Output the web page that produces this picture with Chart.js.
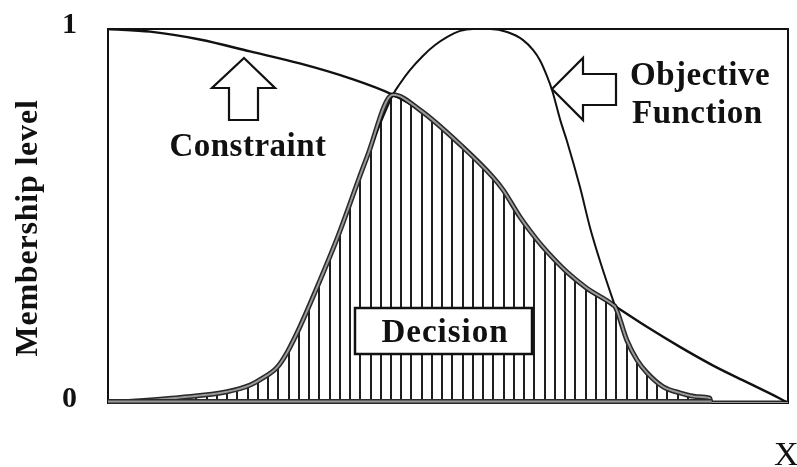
<!DOCTYPE html>
<html><head><meta charset="utf-8">
<script src="https://cdn.jsdelivr.net/npm/chart.js@4/dist/chart.umd.min.js"></script>
<style>html,body{margin:0;padding:0;background:#fff;}#wrap{width:797px;height:467px;}</style>
</head><body><div id="wrap"><canvas id="c" width="797" height="467"></canvas></div>
<script>
// ---- data (x in arbitrary units 0..100, y = membership level) ----
const objectiveX = [0, 10.6, 17.5, 20.9, 22.8, 24.9, 26.3, 28.2, 31.2, 33.7, 38.1, 41.9, 42.9, 44.4, 46.3, 48.1, 49.9, 51.8, 53.7, 56.2, 58.7, 61.0, 62.5, 63.5, 64.6, 65.3, 66.5, 67.5, 69.4, 70.9, 72.4, 74.6, 76.3, 77.8, 79.3, 81.6, 84.1, 86.6, 88.5, 88.7, 100];
const objectiveY = [0, 0.015, 0.03, 0.048, 0.067, 0.096, 0.134, 0.203, 0.329, 0.44, 0.658, 0.824, 0.853, 0.89, 0.928, 0.957, 0.979, 0.995, 1.0, 1.0, 0.992, 0.971, 0.944, 0.917, 0.872, 0.837, 0.757, 0.70, 0.578, 0.468, 0.377, 0.257, 0.168, 0.115, 0.08, 0.044, 0.027, 0.017, 0.013, 0, 0];
const constraintX = [0, 6.2, 13.5, 20.9, 28.2, 35.6, 41.9, 45.9, 52.2, 56.6, 58.1, 60.6, 63.1, 64.6, 67.5, 70.4, 74.3, 79.3, 84.1, 89.0, 94.0, 98.8, 100];
const constraintY = [1.0, 0.993, 0.972, 0.94, 0.908, 0.868, 0.824, 0.783, 0.684, 0.604, 0.57, 0.497, 0.436, 0.404, 0.35, 0.307, 0.262, 0.203, 0.15, 0.1, 0.055, 0.012, 0];
const crossings = [41.9, 74.6];       // where the two curves intersect
const yTickValues = [0, 1];
const labels = {
  yTitle: 'Membership level', xTitle: 'X',
  constraint: 'Constraint', objective: ['Objective', 'Function'], decision: 'Decision'
};

const toPts = (xs, ys) => xs.map((x, i) => ({x, y: ys[i]}));
const objective = toPts(objectiveX, objectiveY);
const constraint = toPts(constraintX, constraintY);
const decision = [
  ...objective.filter(p => p.x <= crossings[0]),
  ...constraint.filter(p => p.x > crossings[0] && p.x < crossings[1]),
  ...objective.filter(p => p.x >= crossings[1])
];
const decisionEnd = objectiveX.find((x, i) => i > 0 && objectiveY[i] === 0);

// vertical hatch pattern
const pc = document.createElement('canvas');
pc.width = 512; pc.height = 4;
const pctx = pc.getContext('2d');
pctx.fillStyle = '#1e1e1e';
for (let k = 0; k < 50; k++) pctx.fillRect(Math.round(0.88 + k * 10.24), 0, 2, 4);
const hatch = pctx.createPattern(pc, 'repeat');

const SERIF = '"Liberation Serif", "Times New Roman", serif';

const decor = {
  id: 'decor',
  beforeDraw(chart) {
    const c = chart.ctx; c.save(); c.fillStyle = '#fff'; c.fillRect(0, 0, chart.width, chart.height); c.restore();
  },
  beforeDatasetsDraw(chart) {
    const c = chart.ctx, a = chart.chartArea;
    c.save(); c.strokeStyle = '#111'; c.lineWidth = 2;
    c.strokeRect(a.left, a.top, a.right - a.left, a.bottom - a.top);
    c.restore();
  },
  afterDatasetsDraw(chart) {
    const c = chart.ctx, a = chart.chartArea, xs = chart.scales.x;
    c.save();
    // base band of the decision area
    const x0 = xs.getPixelForValue(0), x1 = xs.getPixelForValue(decisionEnd);
    c.lineCap = 'butt';
    c.strokeStyle = '#2a2a2a'; c.lineWidth = 5;
    c.beginPath(); c.moveTo(x0, a.bottom - 1.5); c.lineTo(x1, a.bottom - 1.5); c.stroke();
    c.strokeStyle = '#9a9a9a'; c.lineWidth = 2;
    c.beginPath(); c.moveTo(x0, a.bottom - 1.5); c.lineTo(x1, a.bottom - 1.5); c.stroke();

    // block arrows
    const poly = pts => {
      c.beginPath(); c.moveTo(pts[0][0], pts[0][1]);
      for (let i = 1; i < pts.length; i++) c.lineTo(pts[i][0], pts[i][1]);
      c.closePath(); c.fillStyle = '#fff'; c.fill();
      c.strokeStyle = '#111'; c.lineWidth = 2.2; c.lineJoin = 'miter'; c.stroke();
    };
    poly([[244, 58], [275, 88], [258, 88], [258, 120], [229, 120], [229, 88], [212, 88]]);
    poly([[552, 89], [583, 58], [583, 74], [616, 74], [616, 105], [583, 105], [583, 120]]);

    // decision box
    c.fillStyle = '#fff'; c.fillRect(355, 308, 177, 46);
    c.strokeStyle = '#111'; c.lineWidth = 2.5; c.strokeRect(355, 308, 177, 46);

    c.fillStyle = '#111';
    c.font = 'bold 33px ' + SERIF;
    c.letterSpacing = '0.5px';
    c.textBaseline = 'alphabetic';
    c.textAlign = 'center';
    c.fillText(labels.constraint, 248, 156);
    c.letterSpacing = '1px';
    c.fillText(labels.decision, 445, 342);
    c.textAlign = 'left';
    c.letterSpacing = '0.5px';
    c.fillText(labels.objective[0], 630, 85);
    c.fillText(labels.objective[1], 632, 123);

    // axis titles
    c.save();
    c.translate(29, 228); c.rotate(-Math.PI / 2);
    c.textAlign = 'center'; c.textBaseline = 'middle';
    c.font = 'bold 32px ' + SERIF;
    c.letterSpacing = '0.8px';
    c.fillText(labels.yTitle, 0, 0);
    c.restore();
    c.letterSpacing = '0px';
    c.font = '34px ' + SERIF;
    c.textAlign = 'left'; c.textBaseline = 'alphabetic';
    c.fillText(labels.xTitle, 774, 465);
    c.restore();
  }
};

new Chart(document.getElementById('c'), {
  type: 'line',
  data: {
    datasets: [
      { label: 'Decision', data: decision, fill: 'origin', backgroundColor: hatch,
        borderColor: '#2a2a2a', borderWidth: 5, pointRadius: 0, cubicInterpolationMode: 'monotone', order: 3 },
      { label: 'Objective Function', data: objective, fill: false, borderColor: '#111', borderWidth: 2,
        pointRadius: 0, cubicInterpolationMode: 'monotone', order: 2 },
      { label: 'Constraint', data: constraint, fill: false, borderColor: '#111', borderWidth: 2.4,
        pointRadius: 0, cubicInterpolationMode: 'monotone', order: 2 },
      { label: 'Decision outline', data: decision, fill: false, borderColor: '#9a9a9a', borderWidth: 2,
        pointRadius: 0, cubicInterpolationMode: 'monotone', order: 1 }
    ]
  },
  options: {
    responsive: false, animation: false, devicePixelRatio: 1,
    layout: { padding: { left: 0, top: 29, right: 9, bottom: 64 } },
    plugins: { legend: { display: false }, tooltip: { enabled: false } },
    scales: {
      x: { type: 'linear', min: 0, max: 100, display: false },
      y: {
        type: 'linear', min: 0, max: 1,
        afterFit(scale) { scale.width = 108; scale.paddingTop = 0; scale.paddingBottom = 0; },
        afterBuildTicks(scale) { scale.ticks = yTickValues.map(v => ({ value: v })); },
        grid: { display: false, drawTicks: false },
        border: { display: false },
        ticks: { padding: 31, labelOffset: -4, color: '#111',
          font: { family: SERIF, size: 30, weight: 'bold' },
          callback: v => String(v) }
      }
    }
  },
  plugins: [decor]
});
</script>
</body></html>
